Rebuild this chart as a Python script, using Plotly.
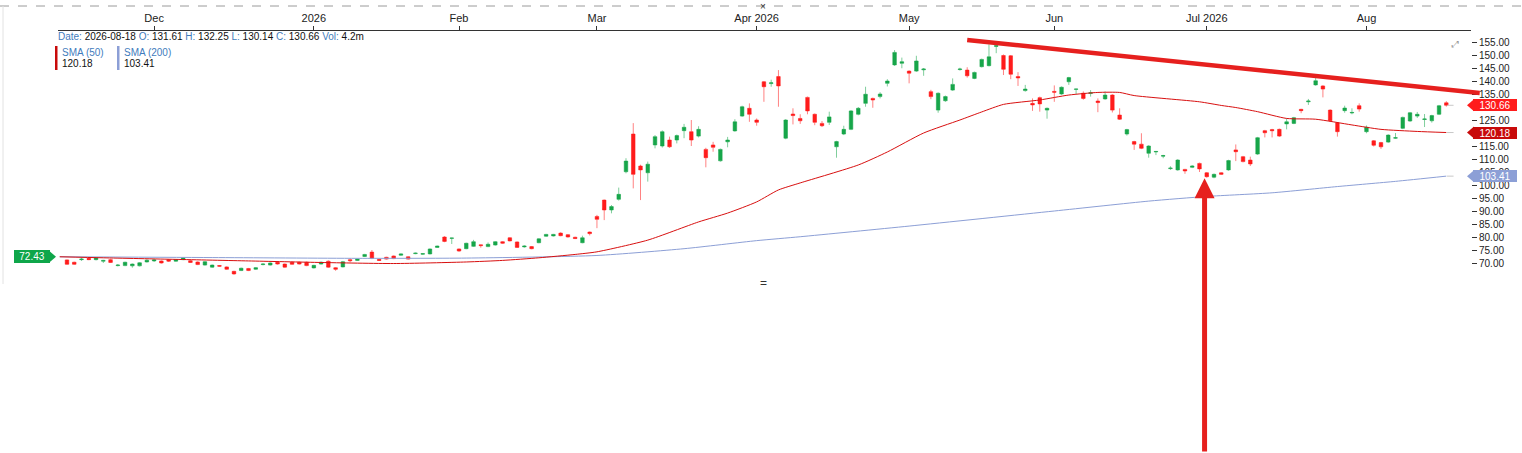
import pandas as pd
import plotly.graph_objects as go

# ---------------- data ----------------
HOLIDAYS = ["2025-11-27", "2025-12-25", "2026-01-01", "2026-01-19", "2026-02-16",
            "2026-04-03", "2026-05-25", "2026-06-19", "2026-07-03"]
sessions = pd.bdate_range("2025-11-11", "2026-08-18", freq="C", holidays=HOLIDAYS)
bar_dates = sessions[1:]          # candles: 2025-11-12 .. 2026-08-18

opens = [71.2, 70.3, 71.3, 71.8, 71.3, 70.7, 71.3, 69.0, 69.0, 68.9,
         68.9, 70.4, 70.8, 70.8, 71.3, 70.7, 71.3, 70.9, 70.4, 69.2,
         68.4, 69.0, 68.5, 66.8, 67.1, 67.9, 67.6, 69.4, 69.2, 70.3,
         69.6, 70.3, 70.3, 70.3, 68.1, 69.6, 70.7, 68.2, 68.5, 71.3,
         71.0, 72.5, 74.2, 71.4, 72.2, 72.7, 73.0, 72.4, 73.6, 73.4,
         73.5, 76.0, 80.0, 79.5, 75.4, 75.5, 76.4, 77.0, 76.3, 76.9,
         78.2, 79.7, 78.1, 76.2, 76.3, 77.8, 80.3, 80.4, 81.5, 80.9,
         79.9, 77.8, 81.9, 87.9, 94.2, 90.4, 94.5, 105.1, 119.6, 107.3,
         104.7, 115.4, 115.0, 117.3, 117.3, 120.9, 120.5, 118.8, 113.7, 115.4,
         109.3, 116.6, 120.8, 126.5, 129.5, 125.0, 139.7, 139.0, 141.7, 118.0,
         127.3, 125.6, 133.7, 127.2, 123.7, 124.1, 114.7, 119.6, 121.4, 127.2,
         131.4, 133.3, 134.0, 139.1, 146.2, 146.8, 143.8, 143.8, 144.3, 135.9,
         128.8, 132.4, 136.5, 144.4, 144.2, 141.0, 145.5, 145.9, 153.3, 149.8,
         149.7, 141.7, 136.3, 131.4, 133.6, 128.8, 136.0, 135.0, 139.7, 136.8,
         135.3, 135.2, 132.3, 133.1, 134.6, 126.9, 119.6, 116.7, 115.7, 112.2,
         112.7, 111.1, 106.3, 105.8, 106.0, 106.8, 108.3, 104.7, 103.0, 104.7,
         105.8, 113.5, 110.9, 109.6, 111.9, 120.9, 121.3, 121.4, 123.5, 123.7,
         129.1, 132.0, 138.5, 138.1, 128.8, 123.9, 128.6, 127.7, 130.5, 120.5,
         117.0, 116.3, 116.5, 118.0, 121.8, 124.6, 126.5, 125.2, 124.7, 127.2,
         131.61]
highs = [71.4, 70.5, 72.0, 72.0, 72.3, 71.2, 71.6, 69.6, 70.5, 69.8,
         70.3, 71.4, 71.5, 71.0, 71.5, 71.5, 72.2, 71.1, 70.6, 70.7,
         69.4, 69.2, 68.7, 67.0, 68.2, 68.1, 68.4, 69.9, 70.2, 70.5,
         69.8, 70.5, 70.5, 70.5, 69.3, 70.6, 71.0, 68.4, 70.8, 71.8,
         71.7, 73.5, 75.0, 71.6, 72.4, 72.9, 73.7, 72.6, 74.0, 73.8,
         75.6, 76.7, 80.3, 79.7, 75.6, 77.8, 78.9, 77.1, 77.9, 78.4,
         78.4, 79.9, 78.3, 76.8, 76.5, 79.5, 81.2, 81.2, 81.8, 81.1,
         80.1, 80.5, 82.1, 88.5, 94.4, 92.3, 99.0, 110.3, 123.8, 107.8,
         109.0, 119.2, 121.0, 118.6, 119.4, 123.5, 125.0, 122.6, 114.3, 116.6,
         114.0, 118.5, 125.3, 130.5, 131.4, 125.6, 140.0, 140.5, 144.2, 125.3,
         129.5, 127.2, 134.0, 127.5, 124.6, 128.2, 117.0, 122.8, 128.8, 130.0,
         137.8, 133.6, 135.7, 140.7, 151.9, 149.0, 144.1, 149.7, 145.0, 136.6,
         135.6, 134.4, 141.0, 145.1, 145.3, 143.6, 148.6, 154.1, 154.5, 150.2,
         150.0, 143.4, 138.5, 133.3, 134.0, 129.8, 138.3, 137.9, 141.6, 137.0,
         136.0, 136.5, 133.3, 136.0, 134.9, 129.5, 121.6, 117.0, 119.9, 115.3,
         113.1, 111.6, 107.2, 109.9, 106.2, 107.6, 108.6, 105.0, 104.4, 104.9,
         109.7, 115.6, 111.2, 110.9, 118.5, 121.2, 121.6, 121.7, 125.6, 126.2,
         129.3, 133.1, 142.3, 138.4, 129.1, 124.2, 130.5, 129.5, 131.4, 122.9,
         117.3, 116.6, 119.5, 120.0, 126.3, 128.1, 128.1, 127.3, 127.0, 130.8,
         132.25]
lows = [69.3, 69.3, 70.8, 71.1, 71.0, 70.0, 70.0, 68.7, 68.8, 68.2,
        68.7, 70.2, 70.4, 69.8, 70.4, 70.5, 71.1, 70.0, 69.2, 69.0,
        68.2, 68.6, 67.4, 65.5, 66.9, 66.9, 67.4, 69.1, 69.0, 69.4,
        68.2, 69.3, 69.4, 68.8, 67.9, 69.4, 68.2, 67.0, 68.3, 70.3,
        70.8, 72.3, 71.5, 70.8, 71.3, 71.5, 72.8, 71.3, 73.4, 73.2,
        73.3, 75.8, 78.0, 77.3, 74.3, 75.3, 76.2, 75.9, 76.1, 76.7,
        77.4, 78.3, 75.8, 75.9, 75.3, 77.6, 80.1, 80.2, 80.3, 79.8,
        79.2, 77.6, 80.6, 83.4, 86.5, 89.1, 94.0, 104.5, 98.7, 94.2,
        101.3, 114.1, 114.4, 114.3, 116.0, 118.0, 115.0, 118.3, 106.8, 112.8,
        109.0, 114.5, 120.5, 126.2, 124.3, 122.8, 132.0, 137.8, 130.1, 117.6,
        123.3, 123.5, 127.2, 123.0, 122.3, 123.1, 110.5, 119.2, 121.1, 126.8,
        130.1, 129.7, 133.3, 137.9, 145.8, 144.9, 139.1, 143.5, 142.0, 133.0,
        127.8, 132.0, 136.2, 144.0, 141.3, 140.7, 145.2, 145.6, 150.7, 142.3,
        140.7, 138.1, 135.9, 128.5, 128.2, 125.5, 132.0, 134.7, 138.5, 135.0,
        132.8, 134.0, 128.0, 132.8, 127.9, 125.0, 119.0, 113.5, 113.8, 110.5,
        111.5, 110.3, 105.8, 105.5, 104.3, 106.5, 105.0, 102.8, 102.6, 103.9,
        105.5, 109.2, 108.7, 107.3, 111.6, 118.3, 118.3, 118.5, 121.4, 123.4,
        127.6, 130.8, 138.2, 133.7, 124.4, 118.6, 127.8, 127.2, 128.2, 119.9,
        114.8, 113.9, 116.2, 117.8, 121.5, 124.3, 125.8, 122.3, 124.0, 126.9,
        130.14]
closes = [69.5, 69.5, 71.5, 71.3, 72.0, 71.0, 70.2, 69.2, 70.3, 69.6,
          70.1, 71.1, 71.2, 70.0, 70.7, 71.3, 72.0, 70.2, 69.4, 70.5,
          69.2, 68.8, 67.6, 65.8, 68.0, 67.1, 68.2, 69.6, 70.0, 69.6,
          68.4, 69.5, 69.6, 69.0, 69.1, 70.3, 68.4, 67.6, 70.5, 70.9,
          71.5, 73.3, 71.8, 71.0, 71.5, 71.7, 73.5, 71.5, 73.8, 73.6,
          75.4, 76.5, 78.3, 79.6, 74.6, 77.6, 78.2, 76.7, 77.2, 78.2,
          77.6, 78.5, 76.0, 76.5, 75.5, 79.3, 81.0, 81.0, 80.5, 80.0,
          79.4, 79.7, 81.3, 86.8, 90.4, 91.7, 96.4, 109.2, 104.1, 105.8,
          108.0, 118.6, 120.5, 114.7, 119.0, 122.2, 117.3, 121.4, 110.5, 114.5,
          113.7, 117.3, 124.3, 130.1, 127.2, 124.1, 137.8, 139.3, 138.1, 125.0,
          126.7, 124.7, 128.5, 124.1, 122.8, 126.2, 116.7, 121.4, 128.5, 129.5,
          134.9, 132.7, 135.0, 140.0, 151.0, 147.4, 143.0, 147.7, 144.6, 134.0,
          135.3, 134.0, 138.7, 144.6, 142.0, 143.3, 148.3, 149.3, 153.6, 144.5,
          142.6, 141.2, 136.9, 130.8, 131.2, 129.5, 135.7, 137.6, 141.3, 136.9,
          133.3, 135.5, 131.7, 134.6, 128.8, 125.3, 121.3, 115.7, 114.1, 115.0,
          112.9, 111.3, 106.5, 109.6, 105.4, 107.3, 106.2, 103.2, 104.1, 104.1,
          109.4, 112.8, 109.0, 108.1, 118.2, 120.1, 120.9, 118.8, 124.3, 125.9,
          128.6, 132.3, 140.1, 136.9, 124.7, 120.5, 129.6, 127.9, 129.2, 122.2,
          115.3, 114.7, 119.2, 118.2, 126.0, 127.8, 127.2, 125.4, 126.7, 130.5,
          130.66]

# moving averages, sampled at bar numbers (-1 = session before first bar)
sma50_bar = [-1, 5, 15, 25, 35, 45, 55, 60, 65, 70, 73, 80, 87, 91, 95, 98, 101,
             109, 113, 118, 123, 126, 129, 134, 138, 142, 145, 147, 156, 159, 161,
             164, 168, 172, 177, 181, 186, 190]
sma50_val = [72.4, 72.0, 71.4, 70.8, 70.2, 69.8, 70.4, 71.0, 72.0, 73.3, 74.3, 78.8,
             85.8, 89.2, 93.5, 98.1, 100.8, 107.7, 112.7, 120.0, 125.0, 128.1, 131.0,
             132.7, 134.6, 135.6, 135.6, 134.4, 132.0, 130.6, 129.8, 128.2, 125.6,
             125.3, 123.1, 121.4, 120.6, 120.18]
sma200_bar = [-1, 20, 40, 55, 73, 85, 95, 101, 116, 136, 149, 157, 166, 175, 183, 190]
sma200_val = [72.4, 72.1, 71.8, 71.9, 72.9, 75.5, 78.6, 80.1, 84.2, 90.0, 93.8, 95.6,
              97.0, 99.4, 101.4, 103.41]

tick_months = ["2025-12", "2026-01", "2026-02", "2026-03", "2026-04",
               "2026-05", "2026-06", "2026-07", "2026-08"]
tick_labels = ["Dec", "2026", "Feb", "Mar", "Apr 2026", "May", "Jun", "Jul 2026", "Aug"]
y_ticks = [70, 75, 80, 85, 90, 95, 100, 105, 110, 115, 120, 125, 130, 135, 140,
           145, 150, 155]

last_close = 130.66
first_label = 72.43
sma50_last = 120.18
sma200_last = 103.41

# ---------------- figure ----------------
n = min(len(opens), len(highs), len(lows), len(closes), len(bar_dates))
bars = list(range(n))
month_keys = [d.strftime("%Y-%m") for d in bar_dates[:n]]
tickvals = [month_keys.index(m) for m in tick_months]

FONT = "Liberation Sans, Arial, sans-serif"
GREEN = "#17a64a"
RED = "#ff1c1c"

fig = go.Figure()
fig.add_trace(go.Scatter(x=sma200_bar, y=sma200_val, mode="lines",
                         line=dict(color="#8c9fd6", width=1, shape="spline", smoothing=0.6),
                         hoverinfo="skip", showlegend=False))
fig.add_trace(go.Scatter(x=sma50_bar, y=sma50_val, mode="lines",
                         line=dict(color="#d80f0f", width=1, shape="spline", smoothing=0.6),
                         hoverinfo="skip", showlegend=False))
fig.add_trace(go.Candlestick(
    x=bars, open=opens[:n], high=highs[:n], low=lows[:n], close=closes[:n],
    increasing=dict(line=dict(color="rgba(23,166,74,0.55)", width=1), fillcolor=GREEN),
    decreasing=dict(line=dict(color="rgba(255,28,28,0.55)", width=1), fillcolor=RED),
    whiskerwidth=0, hoverinfo="skip", showlegend=False))

X0, X1 = -1.24, 193.4
Y0, Y1 = 62.31, 159.23
PL, PR, PT, PB = 58, 1471, 31, 283
W, H = 1522, 453


def xp(i):
    return (i - X0) / (X1 - X0)


def yp(v):
    return (v - Y0) / (Y1 - Y0)


def pxp(x):
    return (x - PL) / (PR - PL)


def pyp(y):
    return (PB - y) / (PB - PT)


shapes = []
annos = []

# top dashed line and left border
shapes.append(dict(type="line", xref="paper", yref="paper", x0=pxp(0), x1=pxp(W),
                   y0=pyp(6), y1=pyp(6), line=dict(color="#9a9a9a", width=1, dash="dash")))
shapes.append(dict(type="line", xref="paper", yref="paper", x0=pxp(3), x1=pxp(3),
                   y0=pyp(6), y1=pyp(284), line=dict(color="#e2e2e2", width=1)))

# hand-drawn trend line
shapes.append(dict(type="line", xref="paper", yref="paper", x0=xp(124.0), y0=yp(155.8),
                   x1=xp(194.6), y1=yp(135.4), line=dict(color="#e6201e", width=4.5)))

# short grey stubs at the right end of the series
for v in (last_close, sma50_last, sma200_last):
    shapes.append(dict(type="line", xref="paper", yref="paper", x0=xp(n - 1 + 0.1),
                       x1=xp(n - 1 + 1.0), y0=yp(v), y1=yp(v),
                       line=dict(color="#c8c8c8", width=1)))

# right-side price tags
hh = 6 / (PB - PT)
for v, col in ((last_close, "#ff1c1c"), (sma50_last, "#c80a0a"), (sma200_last, "#8c9fd6")):
    shapes.append(dict(type="path", xref="paper", yref="paper",
                       path="M {a},{b} L {c},{d} L {c},{e} Z".format(
                           a=pxp(1467), b=yp(v), c=pxp(1474), d=yp(v) - hh, e=yp(v) + hh),
                       fillcolor=col, line=dict(width=0)))
    annos.append(dict(xref="paper", yref="y", x=pxp(1473), y=v, xanchor="left",
                      yanchor="middle", text="{:.2f}".format(v), showarrow=False,
                      bgcolor=col, borderwidth=0, borderpad=1, width=42, height=10,
                      font=dict(family=FONT, size=10, color="white")))

# left green tag
shapes.append(dict(type="path", xref="paper", yref="paper",
                   path="M {a},{b} L {c},{d} L {c},{e} Z".format(
                       a=pxp(56), b=yp(first_label), c=pxp(49), d=yp(first_label) - hh,
                       e=yp(first_label) + hh),
                   fillcolor="#0fa64a", line=dict(width=0)))
annos.append(dict(xref="paper", yref="y", x=pxp(50), y=first_label, xanchor="right",
                  yanchor="middle", text="{:.2f}".format(first_label), showarrow=False,
                  bgcolor="#0fa64a", borderwidth=0, borderpad=1, width=34, height=11,
                  font=dict(family=FONT, size=10, color="white")))

# legend / data header
BL = "#3f7cbd"
hdr = ("<span style='color:%s'>Date:</span> 2026-08-18 "
       "<span style='color:%s'>O:</span> 131.61 "
       "<span style='color:%s'>H:</span> 132.25 "
       "<span style='color:%s'>L:</span> 130.14 "
       "<span style='color:%s'>C:</span> 130.66 "
       "<span style='color:%s'>Vol:</span> 4.2m") % ((BL,) * 6)
annos.append(dict(xref="paper", yref="paper", x=pxp(56), y=pyp(36), xanchor="left",
                  yanchor="middle", text=hdr, showarrow=False,
                  font=dict(family=FONT, size=10, color="#111")))
for bx, name, val, col in ((55, "SMA (50)", sma50_last, "#c80a0a"),
                           (117, "SMA (200)", sma200_last, "#8c9fd6")):
    shapes.append(dict(type="rect", xref="paper", yref="paper", x0=pxp(bx), x1=pxp(bx + 2.5),
                       y0=pyp(70), y1=pyp(46), fillcolor=col, line=dict(width=0)))
    annos.append(dict(xref="paper", yref="paper", x=pxp(bx + 5), y=pyp(52), xanchor="left",
                      yanchor="middle", text=name, showarrow=False,
                      font=dict(family=FONT, size=10, color=BL)))
    annos.append(dict(xref="paper", yref="paper", x=pxp(bx + 5), y=pyp(64), xanchor="left",
                      yanchor="middle", text="{:.2f}".format(val), showarrow=False,
                      font=dict(family=FONT, size=10, color="#111")))

# big red arrow
annos.append(dict(xref="x", yref="y", x=156.7, y=102.6, ax=0, ay=280, text="",
                  showarrow=True, arrowhead=2, arrowsize=0.8, arrowwidth=5,
                  arrowcolor="#e6201e", standoff=0))

# small UI glyphs
annos.append(dict(xref="paper", yref="paper", x=pxp(763), y=pyp(-1), xanchor="center",
                  yanchor="top", text="×", showarrow=False,
                  font=dict(family=FONT, size=10, color="#333")))
annos.append(dict(xref="paper", yref="paper", x=pxp(763), y=pyp(283), xanchor="center",
                  yanchor="middle", text="=", showarrow=False,
                  font=dict(family=FONT, size=12, color="#333")))
annos.append(dict(xref="paper", yref="paper", x=pxp(1455), y=pyp(44), xanchor="center",
                  yanchor="middle", text="⤢", showarrow=False,
                  font=dict(family="DejaVu Sans", size=9, color="#999")))

fig.update_layout(
    width=W, height=H,
    margin=dict(l=PL, r=W - PR, t=PT, b=H - PB),
    paper_bgcolor="white", plot_bgcolor="white",
    font=dict(family=FONT, size=10, color="#222"),
    hovermode=False, showlegend=False,
    shapes=shapes, annotations=annos,
    xaxis=dict(range=[X0, X1], side="top", showgrid=False, zeroline=False,
               showline=True, linecolor="#333", linewidth=1,
               ticks="outside", ticklen=4, tickcolor="#333",
               tickvals=tickvals, ticktext=tick_labels,
               tickfont=dict(family=FONT, size=11, color="#222"),
               rangeslider=dict(visible=False), fixedrange=True),
    yaxis=dict(range=[Y0, Y1], side="right", showgrid=False, zeroline=False,
               showline=False, ticks="outside", ticklen=5, tickcolor="#333",
               tickvals=y_ticks, ticktext=["{:.2f}".format(t) for t in y_ticks],
               tickfont=dict(family=FONT, size=10, color="#222"), fixedrange=True),
)

fig.write_html("out.html", post_script="document.body.style.margin='0';",
               config={"displayModeBar": False})
